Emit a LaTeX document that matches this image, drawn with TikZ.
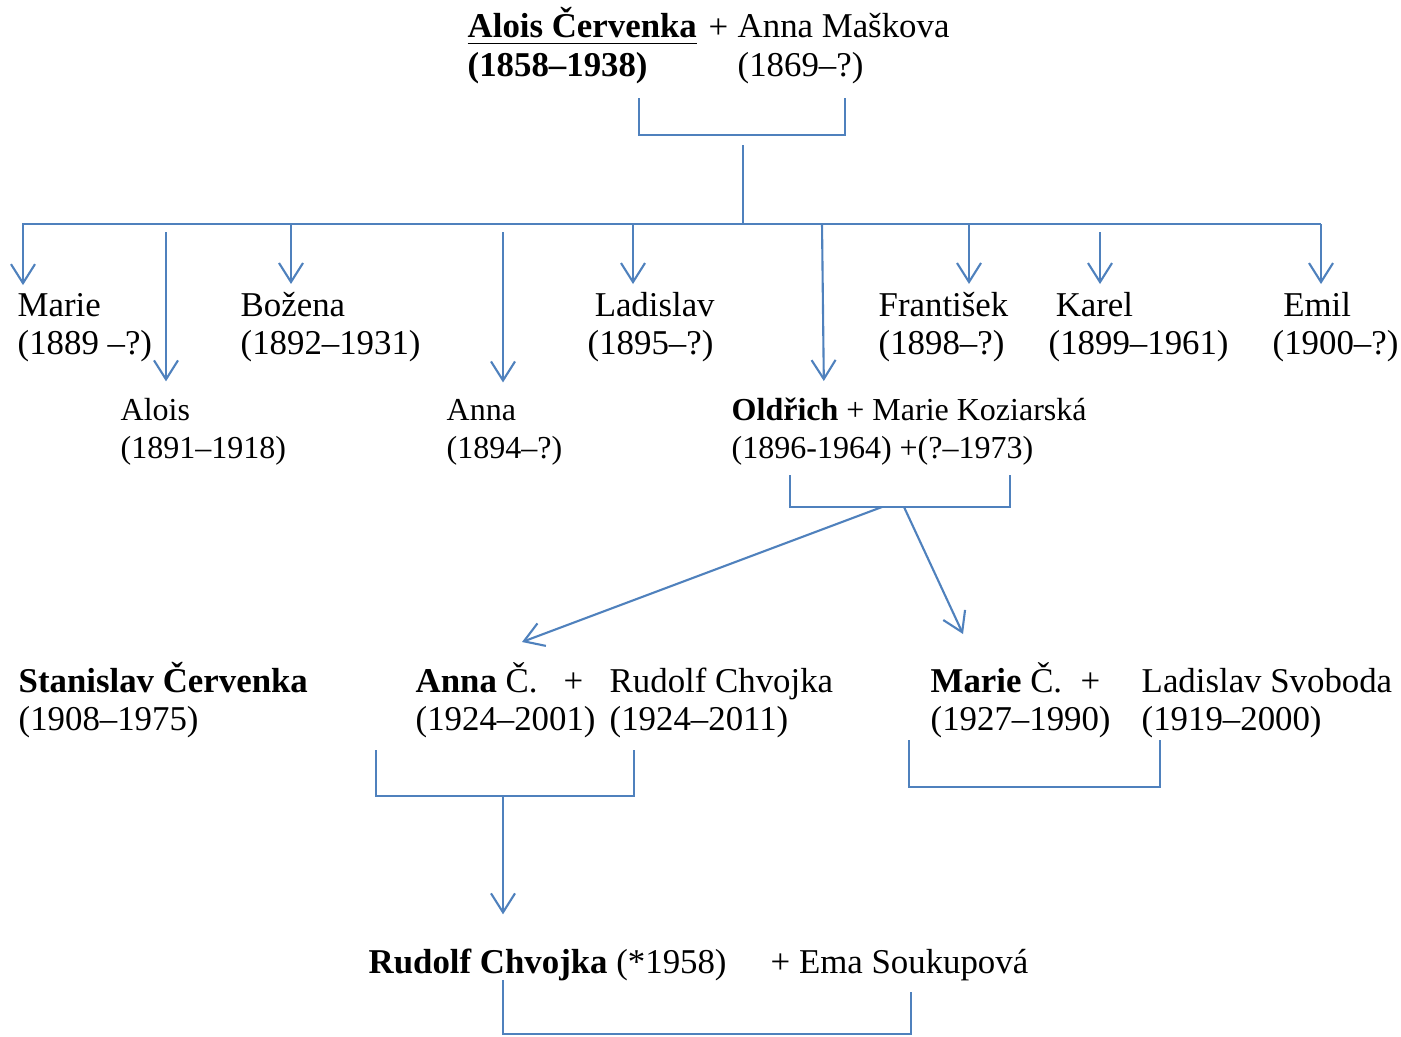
\documentclass[tikz,border=0pt]{standalone}
\usepackage{fontspec}
\setmainfont{Liberation Serif}
\usepackage{xcolor}
\usetikzlibrary{arrows.meta}
\definecolor{linkblue}{RGB}{79,129,189}

\begin{document}
\begin{tikzpicture}[x=0.01cm,y=-0.01cm,font=\fontsize{9.9}{10.95}\selectfont,
    person/.style={align=left,anchor=base west,inner sep=0pt,execute at begin node=\strut},
    lowrow/.style={person,font=\fontsize{9.1}{10.7}\selectfont},
    plus/.style={anchor=base west,inner sep=0pt},
    link/.style={draw=linkblue,line width=0.6pt},
    kid/.style={link,-{Straight Barb[length=0.19cm,width=0.24cm]},shorten >=0.071cm},
    kidlow/.style={kid,shorten >=0.167cm}]

    \useasboundingbox (0,0) rectangle (1401,1036);

    \node[person] (alois) at (467,76.5)
    { \underline{\textbf{Alois Červenka}}\\\textbf{(1858–1938)} };
    \node[plus] (plusA) at (708,38) {+};
    \node[person] (anna) at (737,76.5)
    { Anna Maškova\\(1869–?) };

    \node[person] (marie) at (17,354.5) { Marie\\(1889 –?) };
    \node[person] (bozena) at (240,354.5) { Božena\\(1892–1931) };
    \node[person] (ladislav) at (587,354.5) { \hspace{2pt}Ladislav\\(1895–?) };
    \node[person] (frantisek) at (878,354.5) { František\\(1898–?) };
    \node[person] (karel) at (1048,354.5) { \hspace{2pt}Karel\\(1899–1961) };
    \node[person] (emil) at (1272,354.5) { \hspace{3pt}Emil\\(1900–?) };

    \node[lowrow] (aloisJr) at (120,458.6) { Alois\\(1891–1918) };
    \node[lowrow] (annaJr) at (446,458.6) { Anna\\(1894–?) };
    \node[lowrow] (oldrich) at (731,458.6)
    { \textbf{Oldřich} + Marie Koziarská\\(1896-1964) +(?–1973) };

    \node[person] (stanislav) at (18,730.5)
    { \textbf{Stanislav Červenka}\\(1908–1975) };
    \node[person] (annaC) at (415,730.5) { \textbf{Anna} Č.\\(1924–2001) };
    \node[plus] (plusB) at (563,692) {+};
    \node[person] (rudolf) at (609,730.5) { Rudolf Chvojka\\(1924–2011) };
    \node[person] (marieC) at (930,730.5) { \textbf{Marie} Č.\\(1927–1990) };
    \node[plus] (plusC) at (1080,692) {+};
    \node[person] (ladislavS) at (1141,730.5) { Ladislav Svoboda\\(1919–2000) };

    \node[person] (rudolfJr) at (368,973) { \textbf{Rudolf Chvojka} (*1958) };
    \node[person] (ema) at (770,973) { + Ema Soukupová };

    \coordinate (pL) at (639,98);
    \coordinate (pR) at (845,98);
    \coordinate (pM) at (743,135);
    \coordinate (stem) at (743,145);
    \coordinate (barL) at (22,224);
    \coordinate (barR) at (1321,224);

    \coordinate (oL) at (790,475);
    \coordinate (oR) at (1010,475);
    \coordinate (oA) at (882,507);
    \coordinate (oB) at (904,507);
    \coordinate (toAnna) at (522,642);
    \coordinate (toMarie) at (963,634);

    \coordinate (aL) at (376,750);
    \coordinate (aR) at (634,750);
    \coordinate (aM) at (503,796);
    \coordinate (mL) at (909,740);
    \coordinate (mR) at (1160,740);
    \coordinate (mM) at (1034,787);
    \coordinate (rL) at (503,980);
    \coordinate (rR) at (911,992);
    \coordinate (rM) at (707,1034);

    \draw[link] (pL) |- (pM) -| (pR);
    \draw[link] (stem) -- (stem |- barL);
    \draw[link] (barL) -- (barR);

    \foreach \x/\who in {23/marie,291/bozena,633/ladislav,969/frantisek,1321/emil}
        \draw[kid] (\x,0 |- barL) -- (\x,0 |- \who.north);
    \draw[kid,shorten <=0.08cm] (1100,0 |- barL) -- (1100,0 |- karel.north);
    \draw[kidlow,shorten <=0.08cm] (166,0 |- barL) -- (166,0 |- aloisJr.north);
    \draw[kidlow,shorten <=0.08cm] (503,0 |- barL) -- (503,0 |- annaJr.north);
    \draw[kidlow] (822,0 |- barL) -- (824,0 |- oldrich.north);

    \draw[link] (oL) |- (oA) -| (oR);
    \draw[kid,shorten >=0pt] (oA) -- (toAnna);
    \draw[kid,shorten >=0pt] (oB) -- (toMarie);

    \draw[link] (aL) |- (aM) -| (aR);
    \draw[kid,shorten >=0.31cm] (aM) -- (aM |- rudolfJr.north);
    \draw[link] (mL) |- (mM) -| (mR);
    \draw[link] (rL) |- (rM) -| (rR);
\end{tikzpicture}
\end{document}
